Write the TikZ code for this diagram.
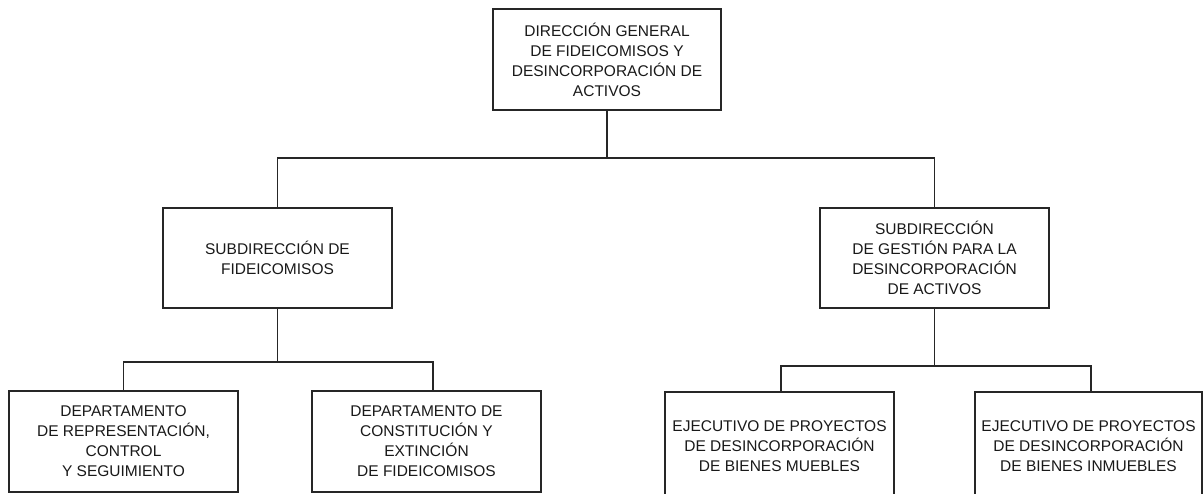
\documentclass[tikz,border=0pt]{standalone}
\usepackage{fontspec}
\setmainfont{Liberation Sans}
\begin{document}
\begin{tikzpicture}[x=1pt,y=-1pt,
  box/.style={draw=black!85, line width=1.1pt, align=center, inner sep=0pt,
    font=\fontsize{15.5}{20}\selectfont, text=black!90},
  link/.style={draw=black!85, line width=1.1pt}]
\useasboundingbox (0,0) rectangle (1204,493);
\node[box, minimum width=228pt, minimum height=101pt] (top) at (607,59.5)
  {DIRECCIÓN GENERAL\\DE FIDEICOMISOS Y\\DESINCORPORACIÓN DE\\ACTIVOS};
\node[box, minimum width=229pt, minimum height=100pt] (ls) at (277.5,258)
  {SUBDIRECCIÓN DE\\FIDEICOMISOS};
\node[box, minimum width=229pt, minimum height=100pt] (rs) at (934.5,258)
  {SUBDIRECCIÓN\\DE GESTIÓN PARA LA\\DESINCORPORACIÓN\\DE ACTIVOS};
\node[box, minimum width=229pt, minimum height=101pt] (b1) at (123.5,441.5)
  {DEPARTAMENTO\\DE REPRESENTACIÓN,\\CONTROL\\Y SEGUIMIENTO};
\node[box, minimum width=229pt, minimum height=101pt] (b2) at (426.5,441.5)
  {DEPARTAMENTO DE\\CONSTITUCIÓN Y\\EXTINCIÓN\\DE FIDEICOMISOS};
\node[box, minimum width=229pt, minimum height=108pt] (b3) at (779.5,446)
  {EJECUTIVO DE PROYECTOS\\DE DESINCORPORACIÓN\\DE BIENES MUEBLES};
\node[box, minimum width=227pt, minimum height=108pt] (b4) at (1088.5,446)
  {EJECUTIVO DE PROYECTOS\\DE DESINCORPORACIÓN\\DE BIENES INMUEBLES};
\coordinate (h1) at (607,158);
\coordinate (h2) at (277.5,362);
\coordinate (h3) at (934.5,366);
\draw[link] (top.south) -- (h1);
\draw[link] (ls.north) |- (h1) -| (rs.north);
\draw[link] (ls.south) -- (h2);
\draw[link] (b1.north) |- (h2) -| ([xshift=6.5pt]b2.north);
\draw[link] (rs.south) -- (h3);
\draw[link] ([xshift=1.5pt]b3.north) |- (h3) -| ([xshift=2.5pt]b4.north);
\end{tikzpicture}
\end{document}
